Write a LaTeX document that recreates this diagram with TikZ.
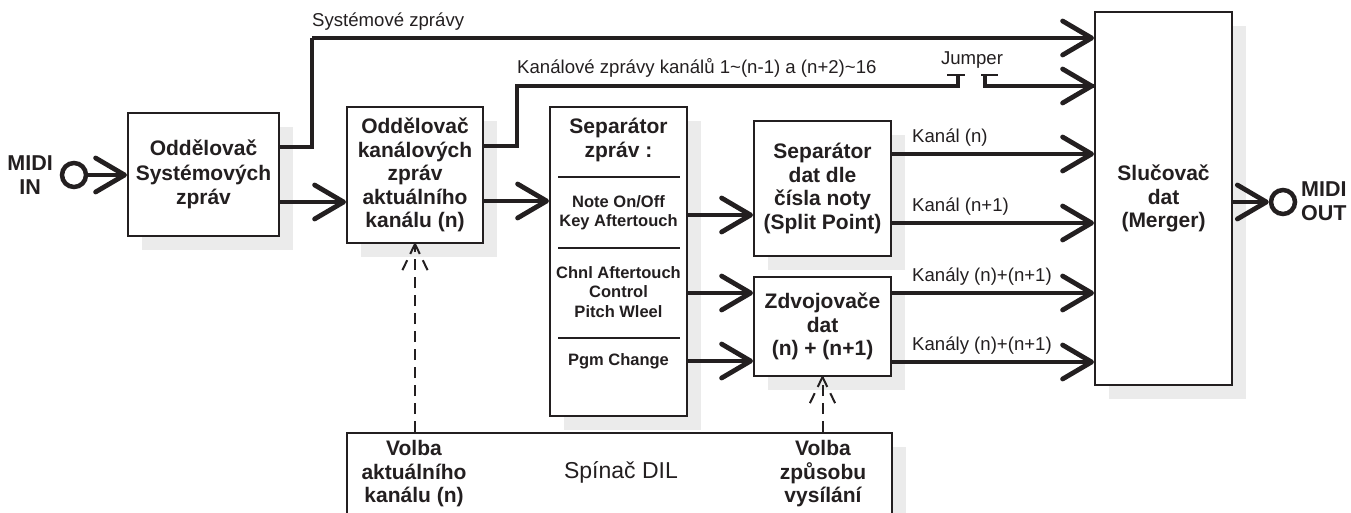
\documentclass[tikz,border=0pt]{standalone}
\usepackage{fontspec}
\setmainfont{Liberation Sans}
\usetikzlibrary{arrows.meta,shadows}
\definecolor{ink}{HTML}{231F20}
\definecolor{shade}{HTML}{EBEBEB}
\begin{document}
\begin{tikzpicture}[x=1pt,y=-1pt,
  box/.style={draw=ink, line width=2pt, fill=white,
    general shadow={fill=shade, shadow xshift=14pt, shadow yshift=-14pt},
    inner sep=0pt, align=center, text=ink,
    font=\fontsize{21}{23.5}\selectfont\bfseries},
  small/.style={align=center, text=ink, inner sep=0pt, font=\fontsize{16.5}{19.5}\selectfont\bfseries},
  big/.style={align=center, text=ink, inner sep=0pt, font=\fontsize{21}{23.5}\selectfont\bfseries},
  lbl/.style={text=ink, inner sep=0pt, anchor=west, font=\fontsize{18.6}{20}\selectfont},
  port/.style={circle, draw=ink, line width=4.5pt, minimum size=24pt, inner sep=0pt},
  portlbl/.style={align=center, text=ink, inner sep=0pt, font=\fontsize{21.5}{24}\selectfont\bfseries},
  wire/.style={draw=ink, line width=4.5pt},
  arr/.style={draw=ink, line width=4.5pt, -{Straight Barb[length=29pt, width=34pt, line width=4.8pt, round]}},
  thin/.style={draw=ink, line width=2pt},
  dashline/.style={draw=ink, line width=2pt, dash pattern=on 11pt off 7pt},
]
\useasboundingbox (0,0) rectangle (1351,513);
\clip (0,0) rectangle (1351,513);

% ports
\node[port] (mi) at (74,175) {};
\node[portlbl, anchor=east] (milbl) at (53,175) {MIDI\\IN};
\node[port] (mo) at (1283,202) {};
\node[portlbl, anchor=west] (molbl) at (1301,201) {MIDI\\OUT};

% boxes
\node[box, minimum width=151pt, minimum height=123pt, font=\fontsize{21}{24.5}\selectfont\bfseries] (b1) at (203.5,174.5) {Oddělovač\\Systémových\\zpráv};
\node[box, minimum width=136pt, minimum height=136pt] (b2) at (415,175) {Oddělovač\\kanálových\\zpráv\\aktuálního\\kanálu (n)};
\node[box, minimum width=137pt, minimum height=309pt] (b3) at (618.5,261.5) {};
\node[box, minimum width=137pt, minimum height=135pt] (b4) at (822.5,188.5) {Separátor\\dat dle\\čísla noty\\(Split Point)};
\node[box, minimum width=137pt, minimum height=99pt] (b5) at (822.5,326.5) {Zdvojovače\\dat\\(n) + (n+1)};
\node[box, minimum width=137pt, minimum height=373pt] (mg) at (1163.5,198.5) {Slučovač\\dat\\(Merger)};
\node[box, minimum width=545pt, minimum height=107pt] (dil) at (619.5,486.5) {};

% separator contents
\node[big] (s0) at (618.5,140) {Separátor\\zpráv :};
\node[small] (s1) at (618.5,212.5) {Note On/Off\\Key Aftertouch};
\node[small] (s2) at (618.5,292) {Chnl Aftertouch\\Control\\Pitch Wleel};
\node[small] (s3) at (618.5,361) {Pgm Change};
\draw[thin] (558,177) -- (680,177);
\draw[thin] (558,248) -- (680,248);
\draw[thin] (558,338) -- (680,338);

% DIL contents
\node[big] (d1) at (414,474) {Volba\\aktuálního\\kanálu (n)};
\node[big] (d2) at (823,474) {Volba\\způsobu\\vysílání};
\node[text=ink, inner sep=0pt, font=\fontsize{23}{26}\selectfont] (d0) at (621,472) {Spínač DIL};

% connectors
\draw[arr] (mi.east) -- (b1.west |- mi.east);
\draw[arr] (b1.east |- 0,202) -- (b2.west |- 0,202);
\draw[wire, line join=miter] (b1.east |- 0,147) -- (312,147) -- (312,38) coordinate (sysc);
\draw[arr] (sysc) -- (mg.west |- sysc);
\node[lbl] (syslbl) at (312,22) {Systémové zprávy};

\coordinate (jl) at (958,75);
\coordinate (jr) at (985,75);
\draw[wire, line join=miter] (b2.east |- 0,146) -- (517,146) -- (517,86) -- (jl |- 0,86) -- (jl);
\draw[wire, line join=miter] (jr) -- (jr |- 0,86) -- (mg.west |- 0,86);
\draw[arr] (1040,86) -- (mg.west |- 0,86);
\draw[thin] ([xshift=-11pt]jl) -- ([xshift=7pt]jl);
\draw[thin] ([xshift=-4pt]jr) -- ([xshift=13pt]jr);
\node[lbl] (kanlbl) at (517,68) {Kanálové zprávy kanálů 1\textasciitilde(n-1) a (n+2)\textasciitilde16};
\node[text=ink, inner sep=0pt, font=\fontsize{18.6}{20}\selectfont] (jlbl) at (972,60) {Jumper};

\draw[arr] (b2.east |- 0,201) -- (b3.west |- 0,201);
\draw[arr] (b3.east |- 0,215) -- (b4.west |- 0,215);
\draw[arr] (b3.east |- 0,293) -- (b5.west |- 0,293);
\draw[arr] (b3.east |- 0,361) -- (b5.west |- 0,361);

\draw[arr] (b4.east |- 0,154) -- (mg.west |- 0,154);
\draw[arr] (b4.east |- 0,223) -- (mg.west |- 0,223);
\draw[arr] (b5.east |- 0,293) -- (mg.west |- 0,293);
\draw[arr] (b5.east |- 0,362) -- (mg.west |- 0,362);
\node[lbl] (l1) at (912,138) {Kanál (n)};
\node[lbl] (l2) at (912,207) {Kanál (n+1)};
\node[lbl] (l3) at (912,277) {Kanály (n)+(n+1)};
\node[lbl] (l4) at (912,346) {Kanály (n)+(n+1)};

\draw[arr] (mg.east |- mo.west) -- (mo.west);

% dashed control arrows
\draw[dashline] (dil.north -| b2.south) -- (b2.south);
\draw[dashline] (b2.south) -- ++(-13,27);
\draw[dashline] (b2.south) -- ++(13,27);
\draw[dashline] (dil.north -| b5.south) -- (b5.south);
\draw[dashline] (b5.south) -- ++(-13,27);
\draw[dashline] (b5.south) -- ++(13,27);
\end{tikzpicture}
\end{document}
